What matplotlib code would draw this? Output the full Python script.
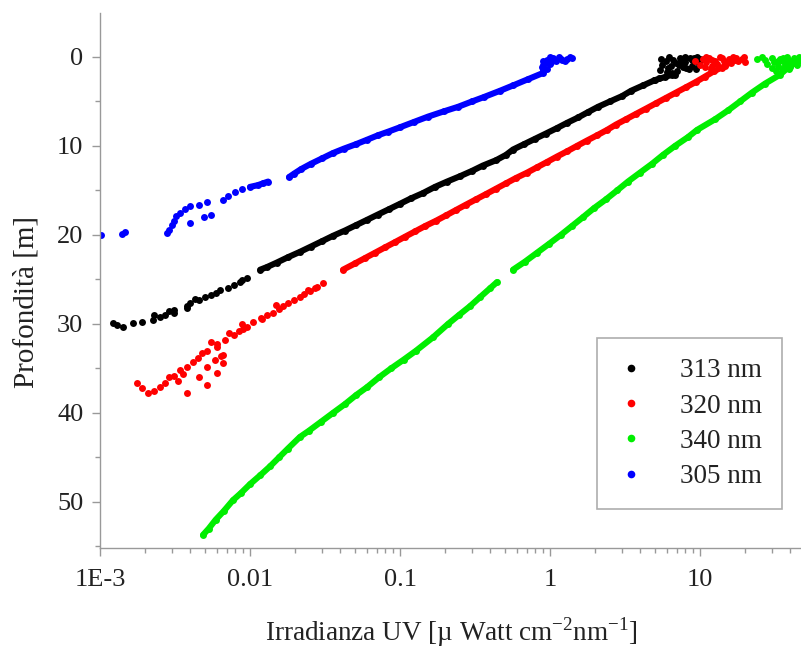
import numpy as np
import matplotlib
matplotlib.use("Agg")
import matplotlib.pyplot as plt
from matplotlib.lines import Line2D
from matplotlib.ticker import FixedLocator, FixedFormatter, LogLocator, MultipleLocator, NullFormatter

plt.rcParams['font.family'] = ['Liberation Serif', 'DejaVu Serif']
plt.rcParams['mathtext.fontset'] = 'custom'
plt.rcParams['mathtext.rm'] = 'Liberation Serif'

# values: depth [m] and irradiance [uW cm-2 nm-1]
# 313 nm (black)
d313_top = [0.0, 0.1, 0.2, 0.1, 0.3, 0.4, 0.5, 0.6, 0.7, 0.9, 1.0, 1.1, 1.2, 1.3, 1.5, 1.6, 1.8, 2.0,
            2.2, 0.8, 1.4, 2.4, 0.0, 0.0, 0.2, 0.3, 0.6, 0.9, 1.2, 1.7, 2.6, 0.1, 0.5, 1.0]
e313_top = [9.6, 8.6, 10.0, 7.4, 6.6, 9.2, 5.9, 8.0, 6.9, 5.6, 8.8, 7.7, 6.1, 9.4, 5.4, 7.0, 6.5, 6.8,
            5.8, 9.8, 8.4, 5.3, 6.2, 7.9, 5.5, 8.9, 9.9, 7.2, 8.1, 6.0, 4.9, 9.1, 7.6, 6.4]
d313 = [2.0, 2.6, 3.2, 3.8, 4.4, 5.0, 5.6, 6.2, 6.8, 7.4, 8.0, 8.6, 9.2, 9.8, 10.4, 11.0, 11.6, 12.2,
        12.8, 13.4, 14.0, 14.6, 15.3, 15.9, 16.5, 17.1, 17.7, 18.3, 18.9, 19.5, 20.1, 20.7, 21.3, 21.9,
        22.5, 23.1, 23.6, 23.9]
e313 = [6.51, 5.01, 4.17, 3.47, 3.02, 2.51, 2.09, 1.79, 1.54, 1.30, 1.11, 0.94, 0.794, 0.671, 0.567,
        0.509, 0.437, 0.357, 0.302, 0.251, 0.206, 0.171, 0.142, 0.118, 0.100, 0.0845, 0.0713, 0.0603,
        0.0509, 0.0430, 0.0357, 0.0302, 0.0255, 0.0215, 0.0179, 0.0151, 0.0130, 0.0117]
d313_deep = [24.8, 25.1, 25.3, 25.6, 26.0, 26.2, 26.5, 26.7, 27.0, 27.3, 27.2, 27.6, 28.0, 28.2, 28.4,
             28.8, 28.5, 29.0, 29.2, 29.0, 29.6, 29.8, 29.9, 30.3, 29.9, 30.1]
e313_deep = [0.0095, 0.0088, 0.0086, 0.0078, 0.0071, 0.0063, 0.0059, 0.0055, 0.0050, 0.0046, 0.0043,
             0.0040, 0.0038, 0.0038, 0.0031, 0.0031, 0.0029, 0.0027, 0.0025, 0.0023, 0.00226, 0.0019,
             0.00166, 0.00142, 0.00122, 0.0013]

# 320 nm (red)
d320_top = [0.0, 0.1, 0.2, 0.0, 0.3, 0.4, 0.5, 0.6, 0.7, 0.8, 0.9, 1.0, 1.2, 0.2, 0.4, 0.1, 0.6,
            0.0, 0.1, 0.3, 0.5, 0.8, 1.1, 1.4, 0.0, 0.2]
e320_top = [19.5, 17.5, 15.5, 13.5, 12.0, 18.0, 14.5, 11.0, 16.0, 13.0, 10.0, 12.0, 14.0, 10.5, 9.3,
            11.5, 20.0, 16.5, 14.0, 17.0, 12.5, 15.0, 10.8, 11.8, 11.0, 19.0]
d320 = [1.0, 1.6, 2.2, 2.8, 3.4, 4.0, 4.6, 5.2, 5.8, 6.4, 7.0, 7.6, 8.2, 8.8, 9.4, 10.0, 10.6, 11.2,
        11.8, 12.4, 13.0, 13.6, 14.2, 14.8, 15.4, 16.0, 16.6, 17.2, 17.8, 18.4, 19.0, 19.6, 20.2, 20.8,
        21.4, 22.0, 22.6, 23.2, 23.9]
e320 = [14.7, 12.4, 10.8, 9.40, 8.07, 6.92, 5.93, 5.09, 4.37, 3.74, 3.21, 2.75, 2.40, 2.06, 1.76, 1.51,
        1.30, 1.11, 0.955, 0.819, 0.703, 0.593, 0.509, 0.437, 0.375, 0.321, 0.275, 0.236, 0.203, 0.174,
        0.147, 0.126, 0.108, 0.0927, 0.0794, 0.0681, 0.0584, 0.0501, 0.0417]
d320_deep = [25.4, 25.8, 26.0, 26.3, 26.6, 27.0, 27.3, 27.6, 28.0, 28.3, 28.8, 29.0, 29.4, 29.8, 30.3,
             30.0, 30.8, 31.2, 31.0, 31.8, 32.3, 32.0, 33.0, 33.3, 33.8, 34.3, 34.8, 35.2, 35.8, 36.0,
             36.6, 37.1, 37.5, 37.8, 37.2, 36.6, 36.4, 35.6, 34.0, 33.6, 37.8, 36.0, 34.8, 36.9, 35.5,
             34.4, 33.5, 26.2, 27.9, 29.3, 30.6, 32.6]
e320_deep = [0.0307, 0.028, 0.027, 0.025, 0.023, 0.0215, 0.0195, 0.018, 0.0165, 0.0155, 0.0142, 0.013,
             0.012, 0.0105, 0.0095, 0.0088, 0.0085, 0.0078, 0.0072, 0.0068, 0.0060, 0.0055, 0.0052,
             0.0048, 0.0045, 0.0042, 0.0038, 0.0034, 0.0031, 0.0029, 0.0027, 0.0025, 0.0023, 0.0021,
             0.0019, 0.00177, 0.0033, 0.0036, 0.0058, 0.0064, 0.0038, 0.0046, 0.0052, 0.0052, 0.0060,
             0.0066, 0.0066, 0.0245, 0.0150, 0.0118, 0.0090, 0.0060]

# 340 nm (green)
d340_top = [0.0, 0.1, 0.0, 0.2, 0.1, 0.3, 0.4, 0.3, 0.5, 0.6, 0.7, 0.8, 0.9, 1.0, 1.2, 1.4, 0.2, 0.5,
            1.1, 1.6, 0.0, 0.1, 0.4, 0.7, 0.9, 1.3]
e340_top = [46, 42, 38, 34, 30, 44, 40, 27, 36, 31, 42, 28, 37, 33, 30, 35, 24, 46, 40, 32, 26, 36,
            33, 38, 44, 39]
d340 = [1.0, 2.0, 3.0, 4.0, 5.0, 6.0, 7.0, 8.2, 9.0, 10.0, 11.0, 12.0, 13.0, 14.0, 15.0, 16.0, 17.0,
        18.0, 19.0, 20.0, 21.0, 22.0, 23.0, 23.9]
e340 = [39.8, 34.1, 27.1, 22.2, 18.5, 15.4, 12.6, 9.55, 8.32, 6.81, 5.67, 4.79, 3.98, 3.31, 2.80, 2.36,
        1.96, 1.66, 1.40, 1.18, 0.985, 0.819, 0.681, 0.567]
d340_deep = [25.3, 26.0, 27.0, 28.0, 29.0, 30.0, 31.5, 33.0, 34.0, 35.0, 36.0, 37.1, 38.0, 39.0, 40.0,
             41.0, 42.0, 42.7, 44.0, 45.0, 46.0, 47.0, 48.0, 49.0, 49.8, 51.0, 52.0, 53.0, 53.7]
e340_deep = [0.443, 0.398, 0.341, 0.293, 0.247, 0.209, 0.166, 0.128, 0.106, 0.0871, 0.0724, 0.0603,
             0.0509, 0.043, 0.0357, 0.0297, 0.0247, 0.0215, 0.0179, 0.0156, 0.0136, 0.0117, 0.0100,
             0.0087, 0.0077, 0.0067, 0.0059, 0.0053, 0.00486]

# 305 nm (blue)
d305_top = [0.0, 0.1, 0.2, 0.3, 0.3, 0.5, 0.7, 0.9, 1.1, 1.3, 0.5, 0.2, 0.8, 1.5, 0.0, 0.4, 0.1, 0.0,
            0.2, 0.6]
e305_top = [1.35, 1.40, 1.30, 1.20, 0.95, 0.90, 0.92, 0.90, 0.88, 0.95, 1.10, 1.00, 1.00, 0.90, 1.15,
            1.25, 1.05, 1.00, 1.18, 1.02]
d305 = [1.8, 2.5, 3.2, 3.8, 4.5, 5.0, 5.6, 6.1, 6.7, 7.3, 7.9, 8.4, 8.8, 9.3, 9.8, 10.3, 10.8, 11.4,
        12.0, 12.6, 13.1, 13.5]
e305 = [0.898, 0.713, 0.567, 0.464, 0.363, 0.302, 0.244, 0.197, 0.154, 0.124, 0.100, 0.0832, 0.0713,
        0.0603, 0.0509, 0.0423, 0.0357, 0.0302, 0.0255, 0.0219, 0.0197, 0.0182]
d305_mid = [14.0, 14.2, 14.4, 14.6]
e305_mid = [0.0132, 0.0122, 0.0113, 0.0100]
d305_deep = [14.8, 15.2, 15.6, 16.1, 16.3, 16.6, 16.8, 17.1, 17.5, 17.9, 18.4, 18.9, 19.4, 19.8, 18.7,
             18.0, 17.8, 19.7, 19.9, 20.0]
e305_deep = [0.0089, 0.0080, 0.0071, 0.0066, 0.0052, 0.0046, 0.0040, 0.0037, 0.0034, 0.0032, 0.0031,
             0.0030, 0.0029, 0.0028, 0.0040, 0.0049, 0.0055, 0.00147, 0.0014, 0.00101]

labels = ["313 nm", "320 nm", "340 nm", "305 nm"]
colors = ["black", "#ff0000", "#00ee00", "#0000ff"]
xtick_vals = [1e-3, 1e-2, 1e-1, 1, 10]
xtick_labels = ["1E-3", "0.01", "0.1", "1", "10"]

fig = plt.figure(figsize=(8.01, 6.55), dpi=100)
ax = fig.add_axes([100 / 801, 1 - 548 / 655, 700 / 801, 535 / 655])

ms = 5.0
lw = 4.4
series = [
    (d313_top, e313_top, d313, e313, d313_deep, e313_deep, colors[0]),
    (d320_top, e320_top, d320, e320, d320_deep, e320_deep, colors[1]),
    (d340_top, e340_top, d340, e340, d340_deep, e340_deep, colors[2]),
]
for dt, et, dl, el, dd, ed, c in series:
    ax.plot(et, dt, 'o', color=c, ms=ms, mew=0)
    ax.plot(el, dl, '-o', color=c, ms=ms, mew=0, lw=lw, solid_capstyle='round')
    if c == colors[2]:
        ax.plot(ed, dd, '-o', color=c, ms=ms, mew=0, lw=lw, solid_capstyle='round')
    else:
        ax.plot(ed, dd, 'o', color=c, ms=ms, mew=0)

ax.plot(e305_top, d305_top, 'o', color=colors[3], ms=ms, mew=0)
ax.plot(e305, d305, '-o', color=colors[3], ms=ms, mew=0, lw=lw, solid_capstyle='round')
ax.plot(e305_mid, d305_mid, '-o', color=colors[3], ms=ms, mew=0, lw=lw, solid_capstyle='round')
ax.plot(e305_deep, d305_deep, 'o', color=colors[3], ms=ms, mew=0)

ax.set_xscale('log')
ax.set_xlim(1e-3, 46.4)
ax.set_ylim(55.17, -4.94)

gray = '#999999'
for s in ['top', 'right']:
    ax.spines[s].set_visible(False)
for s in ['left', 'bottom']:
    ax.spines[s].set_color(gray)
    ax.spines[s].set_linewidth(1.0)

ax.xaxis.set_major_locator(FixedLocator(xtick_vals))
ax.xaxis.set_major_formatter(FixedFormatter(xtick_labels))
ax.xaxis.set_minor_locator(LogLocator(base=10, subs=np.arange(2, 10)))
ax.xaxis.set_minor_formatter(NullFormatter())
ax.yaxis.set_major_locator(MultipleLocator(10))
ax.yaxis.set_minor_locator(MultipleLocator(5))

ax.tick_params(which='both', direction='out', color=gray, width=1, labelsize=19, labelcolor='#222222')
ax.tick_params(which='major', length=6)
ax.tick_params(which='minor', length=3.5)
ax.tick_params(axis='x', which='major', pad=9)
ax.tick_params(axis='y', which='major', pad=6)

fig.text(27 / 801, 1 - 302 / 655, "Profondità [m]", rotation=90, ha='center', va='center',
         fontsize=21, color='#222222')
fig.text(451 / 801, 1 - 632 / 655, "Irradianza UV [µ Watt cm$^{-2}$nm$^{-1}$]", ha='center', va='center',
         fontsize=19.5, color='#222222')

handles = [Line2D([], [], marker='o', ls='', color=c, ms=5.5, mew=0) for c in colors]
leg = ax.legend(handles, labels, loc='upper left', bbox_to_anchor=(597 / 801, 1 - 338 / 655),
                bbox_transform=fig.transFigure, borderaxespad=0, fontsize=19.5, frameon=True,
                fancybox=False, borderpad=0.75, handlelength=1.0, handletextpad=1.3, labelspacing=0.38)
leg.get_frame().set_edgecolor(gray)
leg.get_frame().set_linewidth(1.2)
for t in leg.get_texts():
    t.set_color('#222222')

fig.savefig("out.png", dpi=100)
